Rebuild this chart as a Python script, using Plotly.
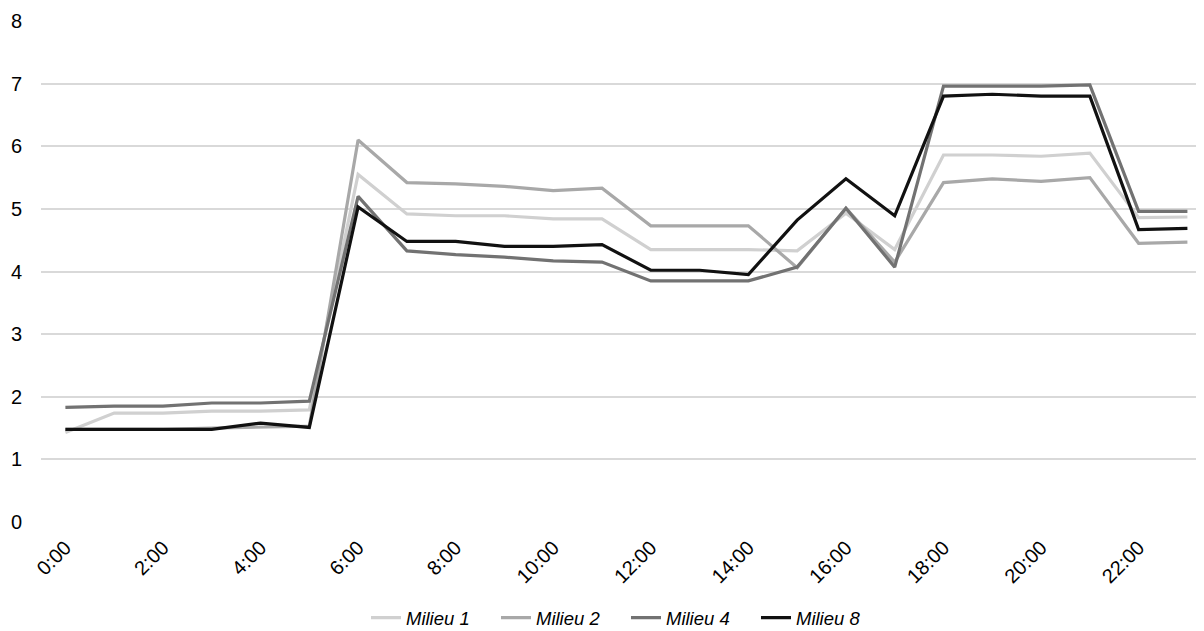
import plotly.graph_objects as go

hours = list(range(24))
tick_vals = list(range(0, 24, 2))
tick_labels = [f"{h}:00" for h in tick_vals]

milieu_1 = [1.43, 1.74, 1.74, 1.77, 1.77, 1.79, 5.55, 4.92, 4.89, 4.89, 4.84, 4.84,
            4.35, 4.35, 4.35, 4.33, 4.93, 4.35, 5.86, 5.86, 5.84, 5.89, 4.86, 4.87]
milieu_2 = [1.48, 1.48, 1.48, 1.50, 1.52, 1.53, 6.10, 5.42, 5.40, 5.36, 5.29, 5.33,
            4.73, 4.73, 4.73, 4.06, 5.01, 4.15, 5.42, 5.48, 5.44, 5.50, 4.45, 4.47]
milieu_4 = [1.83, 1.85, 1.85, 1.90, 1.90, 1.93, 5.20, 4.33, 4.27, 4.23, 4.17, 4.15,
            3.85, 3.85, 3.85, 4.07, 5.01, 4.07, 6.96, 6.96, 6.96, 6.98, 4.96, 4.96]
milieu_8 = [1.48, 1.48, 1.48, 1.48, 1.58, 1.51, 5.03, 4.48, 4.48, 4.40, 4.40, 4.43,
            4.02, 4.02, 3.95, 4.82, 5.48, 4.89, 6.80, 6.83, 6.80, 6.80, 4.67, 4.69]

series = [
    ("Milieu 1", milieu_1, "#d0d0d0"),
    ("Milieu 2", milieu_2, "#a8a8a8"),
    ("Milieu 4", milieu_4, "#727272"),
    ("Milieu 8", milieu_8, "#111111"),
]

fig = go.Figure()
for name, vals, color in series:
    fig.add_trace(go.Scatter(
        x=hours, y=vals, name=name, mode="lines",
        line=dict(color=color, width=3.2),
    ))

# page body has an 8px margin, so the figure is sized to fit the window
fig.update_layout(
    width=1196, height=623,
    margin=dict(l=33, r=0, t=13, b=109, autoexpand=False),
    paper_bgcolor="white", plot_bgcolor="white",
    font=dict(family="Liberation Sans, Arial, sans-serif", size=18, color="#000"),
    showlegend=True,
    legend=dict(orientation="h", x=0.503, xanchor="center", y=-0.192, yanchor="middle",
                font=dict(size=18.5, style="italic",
                          family="Liberation Sans, Arial, sans-serif"),
                itemwidth=30, entrywidth=85, entrywidthmode="pixels"),
)
fig.update_xaxes(
    range=[-0.5, 23.34], tickmode="array",
    tickvals=tick_vals, ticktext=tick_labels,
    tickangle=-45, showgrid=False, zeroline=False, showline=False, ticks="",
    tickfont=dict(size=20), ticklabelstandoff=9, automargin=False,
    fixedrange=True,
)
fig.update_yaxes(
    range=[0, 8], dtick=1, showgrid=True, gridcolor="#d9d9d9", gridwidth=1.5,
    zeroline=False, showline=False, ticks="", ticklabelstandoff=18,
    tickfont=dict(size=20), automargin=False,
    fixedrange=True,
)

fig.write_html("out.html")
